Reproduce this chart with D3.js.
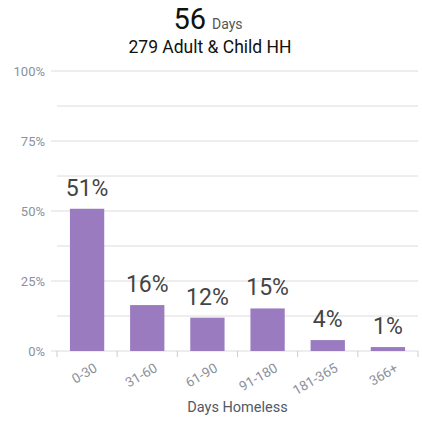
<!DOCTYPE html>
<html>
<head>
<meta charset="utf-8">
<script src="https://cdn.jsdelivr.net/npm/d3@7"></script>
<style>
  body { margin: 0; background: #fff; font-family: Roboto, "Noto Sans", sans-serif; }
</style>
</head>
<body>
<div class="chart"></div>
<script>
const categories = ['0-30', '31-60', '61-90', '91-180', '181-365', '366+']
const values = [50.8, 16.4, 11.9, 15.2, 3.9, 1.4]
const yTicks = [0, 25, 50, 75, 100]
const gridLines = [0, 12.5, 25, 37.5, 50, 62.5, 75, 87.5, 100]
const headline = '56'
const headlineUnit = 'Days'
const subtitle = '279 Adult & Child HH'
const xTitle = 'Days Homeless'

const width = 422
const height = 422
const margin = {top: 71, right: 4, bottom: 71, left: 57}

const svg = d3.select('.chart')
  .append('svg')
  .attr('width', width)
  .attr('height', height)

const x = d3.scaleBand()
  .domain(categories)
  .range([margin.left, width - margin.right])
  .paddingInner(0.43)
  .paddingOuter(0.215)

const y = d3.scaleLinear()
  .domain([0, 100])
  .range([height - margin.bottom, margin.top])

// grid
svg.append('g')
  .selectAll('line')
  .data(gridLines)
  .enter().append('line')
    .attr('x1', d => yTicks.includes(d) ? margin.left - 6 : margin.left)
    .attr('x2', width - margin.right)
    .attr('y1', d => y(d))
    .attr('y2', d => y(d))
    .attr('stroke', '#dcdcdc')
    .attr('stroke-width', 1)

// y labels
svg.append('g')
  .selectAll('text')
  .data(yTicks)
  .enter().append('text')
    .attr('x', margin.left - 12)
    .attr('y', d => y(d))
    .attr('dy', '0.35em')
    .attr('text-anchor', 'end')
    .style('font-size', '13px')
    .style('fill', '#8a929c')
    .text(d => d + '%')

// x ticks
const xTickPos = categories.map(c => x(c) - x.step() * x.paddingInner() / 2)
xTickPos.push(width - margin.right)
svg.append('g')
  .selectAll('line')
  .data(xTickPos)
  .enter().append('line')
    .attr('x1', d => d)
    .attr('x2', d => d)
    .attr('y1', y(0))
    .attr('y2', y(0) + 6)
    .attr('stroke', '#cccccc')

// bars
svg.append('g')
  .selectAll('rect')
  .data(values)
  .enter().append('rect')
    .attr('x', (d, i) => x(categories[i]))
    .attr('y', d => y(d))
    .attr('width', x.bandwidth())
    .attr('height', d => y(0) - y(d))
    .attr('fill', '#9a7bbf')

// value labels
svg.append('g')
  .selectAll('text')
  .data(values)
  .enter().append('text')
    .attr('x', (d, i) => x(categories[i]) + x.bandwidth() / 2)
    .attr('y', d => y(d) - 13)
    .attr('text-anchor', 'middle')
    .style('font-size', '23px')
    .style('fill', '#444444')
    .text(d => Math.round(d) + '%')

// x labels
svg.append('g')
  .selectAll('text')
  .data(categories)
  .enter().append('text')
    .attr('transform', d => `translate(${x(d) + x.bandwidth() / 2 + 6},${y(0) + 11}) rotate(-30)`)
    .attr('text-anchor', 'end')
    .attr('dy', '0.75em')
    .style('font-size', '13.5px')
    .style('fill', '#8a929c')
    .text(d => d)

// axis title
svg.append('text')
  .attr('x', (margin.left + width - margin.right) / 2)
  .attr('y', 412)
  .attr('text-anchor', 'middle')
  .style('font-size', '14.5px')
  .style('fill', '#505a66')
  .text(xTitle)

// title
const title = svg.append('text')
  .attr('x', 208)
  .attr('y', 29)
  .attr('text-anchor', 'middle')
title.append('tspan')
  .style('font-size', '29px')
  .style('fill', '#111')
  .text(headline)
title.append('tspan')
  .attr('dx', 6)
  .style('font-size', '14px')
  .style('fill', '#555')
  .text(headlineUnit)

svg.append('text')
  .attr('x', 210)
  .attr('y', 53)
  .attr('text-anchor', 'middle')
  .style('font-size', '17.5px')
  .style('fill', '#111')
  .text(subtitle)
</script>
</body>
</html>
